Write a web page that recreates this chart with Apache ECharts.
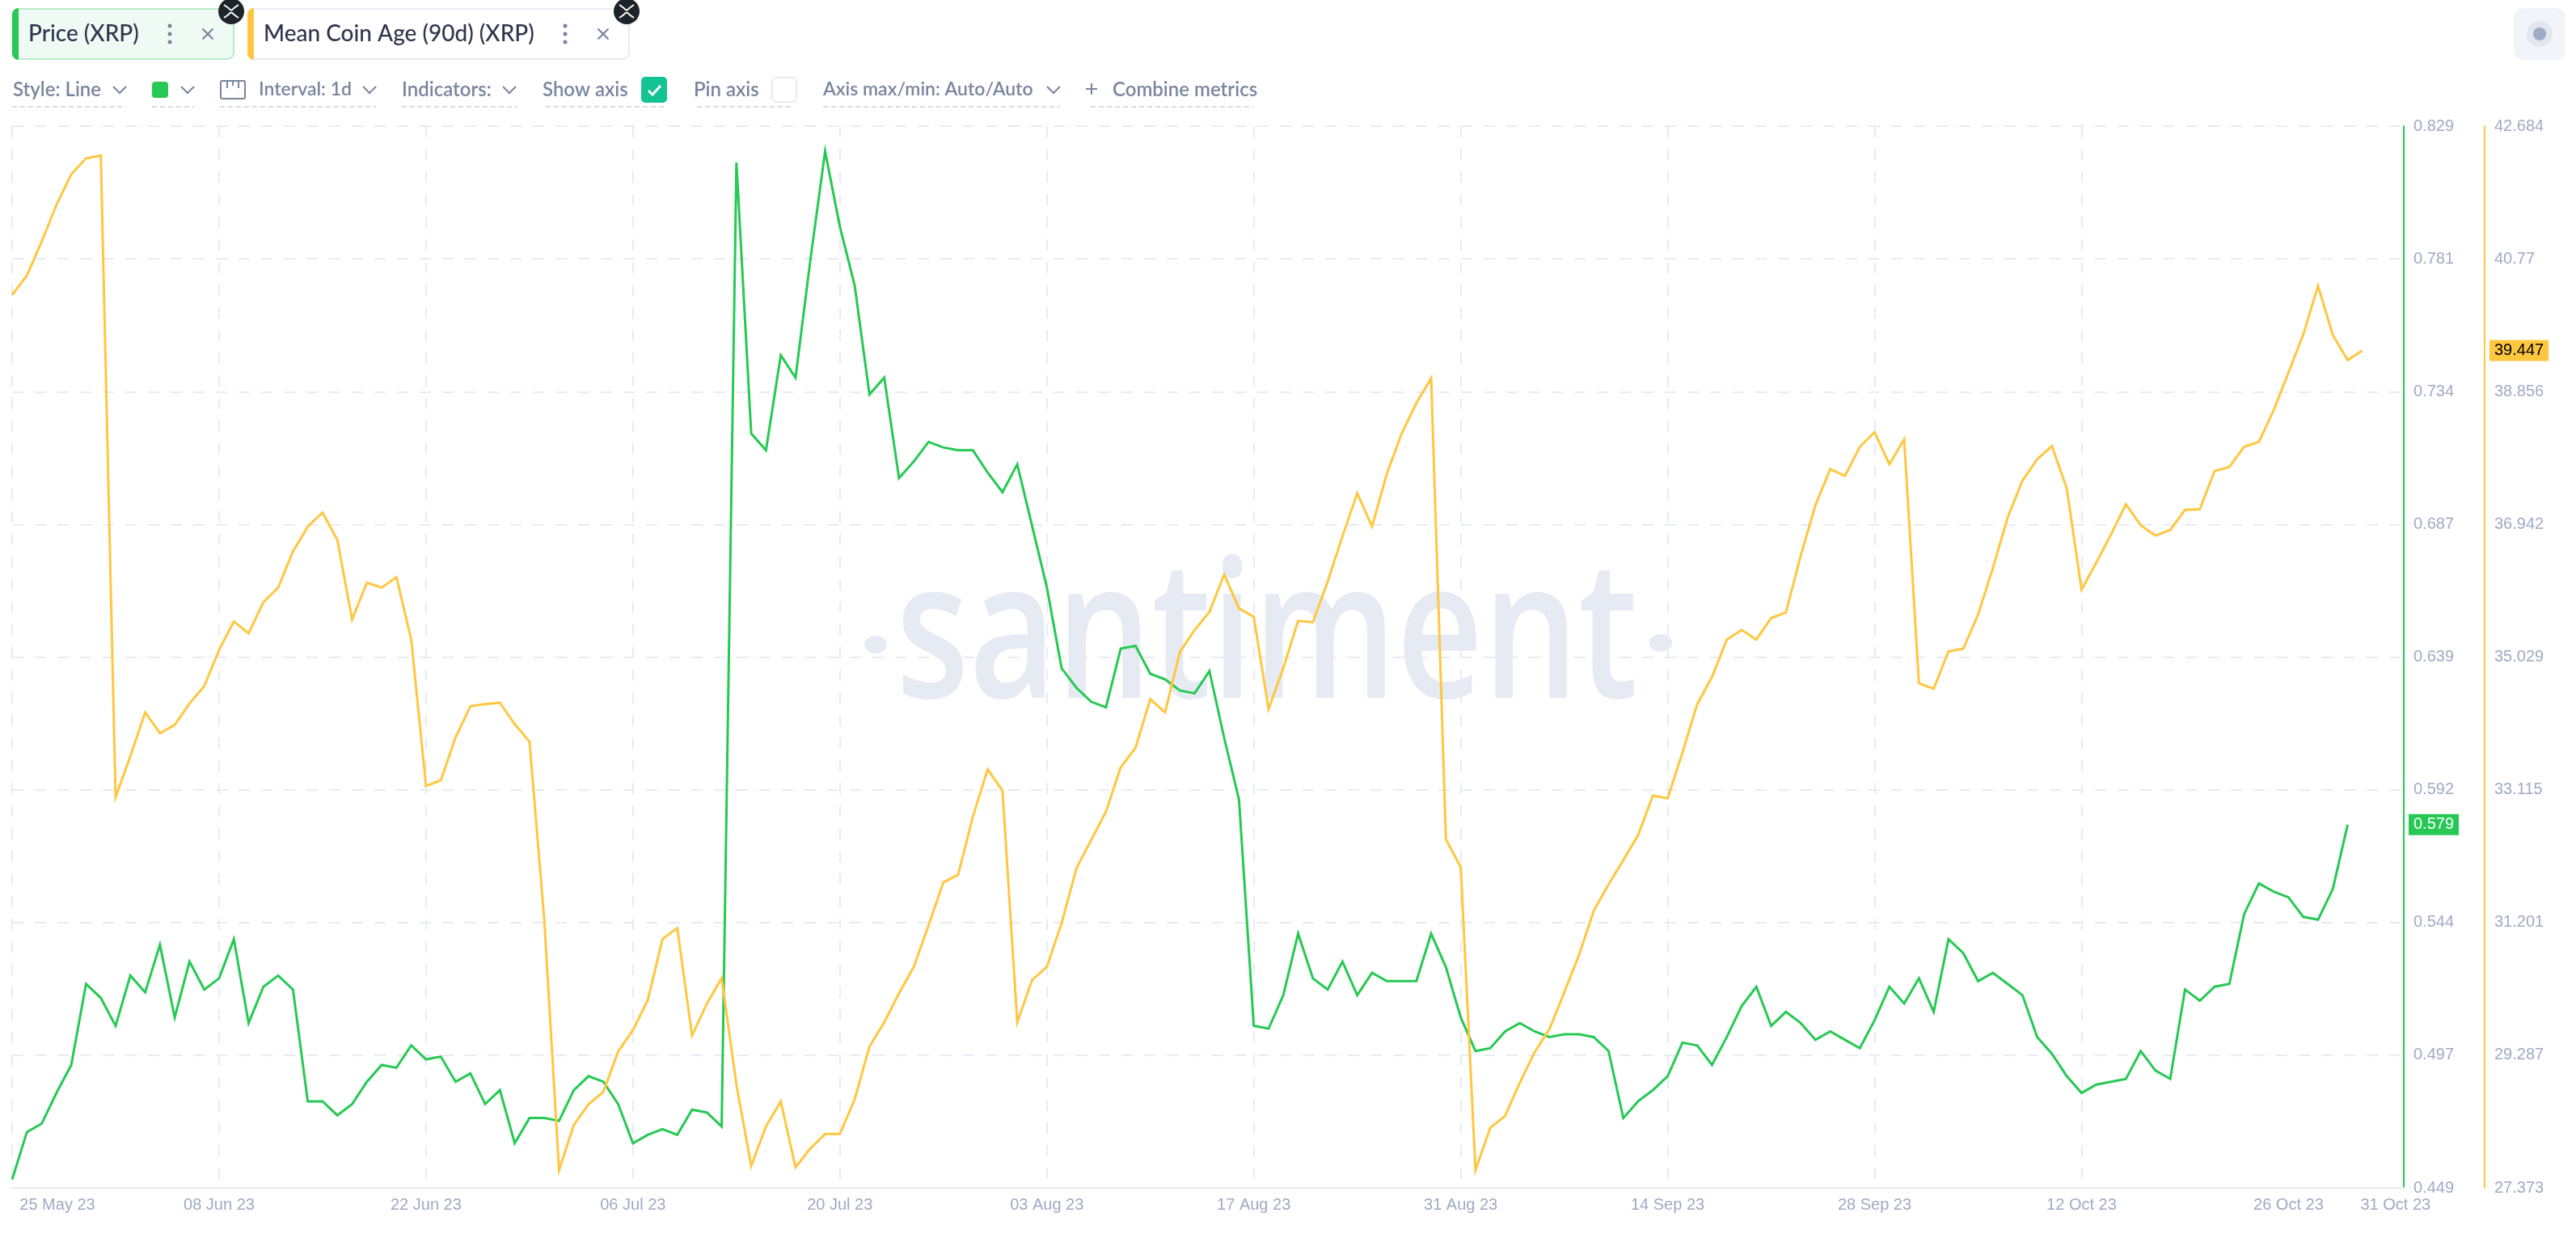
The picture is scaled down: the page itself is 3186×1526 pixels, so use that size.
<!DOCTYPE html>
<html><head><meta charset="utf-8">
<style>html,body{margin:0;padding:0;background:#fff}#c{width:3186px;height:1526px}</style>
<script src="https://cdn.jsdelivr.net/npm/echarts@6/dist/echarts.min.js"></script>
</head><body><div id="c"></div>
<script>
// Price (XRP), one value per day from 25 May 23 to 30 Oct 23
const priceValues = [
0.452,0.469,0.472,0.483,0.493,0.522,0.517,0.507,0.525,0.519,0.536,0.510,0.530,0.520,
0.524,0.538,0.508,0.521,0.525,0.520,0.480,0.480,0.475,0.479,0.487,0.493,0.492,0.500,
0.495,0.496,0.487,0.490,0.479,0.484,0.465,0.474,0.474,0.473,0.484,0.489,0.487,0.479,
0.465,0.468,0.470,0.468,0.477,0.476,0.471,0.816,0.719,0.713,0.747,0.739,0.781,0.820,
0.793,0.772,0.733,0.739,0.703,0.709,0.716,0.714,0.713,0.713,0.705,0.698,0.708,0.686,
0.664,0.635,0.628,0.623,0.621,0.642,0.643,0.633,0.631,0.627,0.626,0.634,0.610,0.588,
0.507,0.506,0.518,0.540,0.524,0.520,0.530,0.518,0.526,0.523,0.523,0.523,0.540,0.528,
0.510,0.498,0.499,0.505,0.508,0.505,0.503,0.504,0.504,0.503,0.498,0.474,0.480,0.484,
0.489,0.501,0.500,0.493,0.503,0.514,0.521,0.507,0.512,0.508,0.502,0.505,0.502,0.499,
0.509,0.521,0.515,0.524,0.512,0.538,0.533,0.523,0.526,0.522,0.518,0.503,0.497,0.489,
0.483,0.486,0.487,0.488,0.498,0.491,0.488,0.520,0.516,0.521,0.522,0.547,0.558,0.555,
0.553,0.546,0.545,0.556,0.579];
// Mean Coin Age (90d) (XRP), one value per day from 25 May 23 to 31 Oct 23
const ageValues = [
40.25,40.53,41.02,41.55,41.99,42.22,42.26,33.01,33.60,34.23,33.93,34.05,34.36,34.61,
35.13,35.54,35.37,35.82,36.03,36.55,36.91,37.11,36.72,35.57,36.10,36.03,36.18,35.28,
33.17,33.25,33.87,34.32,34.35,34.37,34.06,33.81,31.24,27.63,28.28,28.58,28.76,29.34,
29.65,30.08,30.96,31.12,29.57,30.03,30.40,28.86,27.69,28.26,28.62,27.67,27.94,28.15,
28.15,28.65,29.41,29.76,30.18,30.56,31.16,31.78,31.89,32.73,33.41,33.10,29.76,30.37,
30.56,31.19,31.98,32.39,32.80,33.44,33.72,34.42,34.23,35.10,35.42,35.68,36.22,35.73,
35.61,34.28,34.87,35.55,35.53,36.12,36.77,37.39,36.91,37.67,38.25,38.69,39.05,32.40,
32.00,27.63,28.24,28.41,28.89,29.33,29.66,30.19,30.73,31.37,31.75,32.10,32.46,33.03,
32.99,33.65,34.35,34.74,35.28,35.42,35.28,35.59,35.67,36.49,37.22,37.74,37.64,38.06,
38.27,37.81,38.17,34.65,34.57,35.11,35.15,35.64,36.31,37.04,37.57,37.88,38.07,37.46,
36.00,36.39,36.80,37.23,36.93,36.78,36.86,37.15,37.16,37.71,37.77,38.06,38.13,38.59,
39.13,39.68,40.38,39.67,39.31,39.447];
const dateLabels = ['25 May 23','08 Jun 23','22 Jun 23','06 Jul 23','20 Jul 23','03 Aug 23','17 Aug 23','31 Aug 23','14 Sep 23','28 Sep 23','12 Oct 23','26 Oct 23','31 Oct 23'];
const dateDays = [0,14,28,42,56,70,84,98,112,126,140,154,159];
const gridDays = [0,14,28,42,56,70,84,98,112,126,140,154];
const priceTicks = [0.449,0.4965,0.544,0.5915,0.639,0.6865,0.734,0.7815,0.829];
const priceTickLabels = ['0.449','0.497','0.544','0.592','0.639','0.687','0.734','0.781','0.829'];
const ageTicks = [27.373,29.287,31.201,33.115,35.029,36.942,38.856,40.77,42.684];
const ageTickLabels = ['27.373','29.287','31.201','33.115','35.029','36.942','38.856','40.77','42.684'];
const priceLast = 0.579, ageLast = 39.447;

const GREEN='#26c953', ORANGE='#ffc740', AXIS='#9faac4', GRID='#e8ebf4', UI='#7a859e', INK='#2f354d';
const toPairs = a => a.map((v,i)=>[i,v]);
const uiFont = '"Lato", sans-serif';

const g = [];
const rect=(x,y,w,h,r,fill,stroke,lw,z)=>g.push({type:'rect',z:z||5,shape:{x,y,width:w,height:h,r},style:{fill:fill||'transparent',stroke:stroke||null,lineWidth:lw||0},silent:true});
const text=(x,y,t,size,color,weight)=>g.push({type:'text',z:6,style:{x,y,text:t,fontFamily:uiFont,fontSize:size,fontWeight:weight||500,fill:color,textAlign:'left',textVerticalAlign:'middle'},silent:true});
const circle=(x,y,r,fill)=>g.push({type:'circle',z:7,shape:{cx:x,cy:y,r},style:{fill},silent:true});
const poly=(pts,color,lw,smooth)=>g.push({type:'polyline',z:8,shape:{points:pts,smooth:smooth||0},style:{stroke:color,fill:null,lineWidth:lw||2},silent:true});
const chev=(x,y)=>poly([[x-8,y-4],[x,y+4],[x+8,y-4]],UI,2);
const under=(x1,x2)=>g.push({type:'line',z:5,shape:{x1,y1:132,x2,y2:132},style:{stroke:'#d8dbec',lineWidth:2,lineDash:[6,4]},silent:true});
const kebab=x=>{circle(x,32,2.5,UI);circle(x,42,2.5,UI);circle(x,52,2.5,UI);};
const cross=x=>{poly([[x-6.5,35.5],[x+6.5,48.5]],UI,2.2);poly([[x-6.5,48.5],[x+6.5,35.5]],UI,2.2);};
const xrp=x=>{circle(x,14,16,'#1d2429');
  poly([[x-9,6],[x-4,9.5],[x,12.5],[x+4,9.5],[x+9,6]],'#fff',2,0.5);
  poly([[x-9,22],[x-4,18.5],[x,15.5],[x+4,18.5],[x+9,22]],'#fff',2,0.5);};

// watermark
g.push({type:'text',z:-1,x:1108,y:795,scaleX:0.765,scaleY:0.98,style:{x:0,y:0,text:'santiment',fontFamily:'"Open Sans"',fontWeight:600,fontSize:243,fill:'#e6eaf3',textAlign:'left',textVerticalAlign:'middle'},silent:true});
g.push({type:'ellipse',z:-1,shape:{cx:1083,cy:797,rx:14,ry:11},style:{fill:'#e6eaf3'},silent:true});
g.push({type:'ellipse',z:-1,shape:{cx:2054,cy:795,rx:14,ry:11},style:{fill:'#e6eaf3'},silent:true});

// chip 1
rect(16,11,273,62,8,'#f0faf5','#b9ecc6',2);
rect(15,10,8,64,[8,0,0,8],GREEN);
text(35,42,'Price (XRP)',28,INK,500);
kebab(210);cross(257);xrp(286);
// chip 2
rect(307,11,471,62,8,'#ffffff','#e8ebf5',2);
rect(306,10,8,64,[8,0,0,8],ORANGE);
text(326,42,'Mean Coin Age (90d) (XRP)',28,INK,500);
kebab(699);cross(746);xrp(775);

// toolbar
text(16,111,'Style: Line',24,UI,600);chev(148,111);under(15,156);
rect(188,101,20,20,4,GREEN);chev(232,111);under(188,240);
rect(273,100,30,22,2,'#fff',UI,2);poly([[281,100],[281,109]],UI,2);poly([[288,100],[288,106]],UI,2);poly([[295,100],[295,109]],UI,2);
text(320,111,'Interval: 1d',23,UI,600);chev(457,111);under(272,465);
text(497,111,'Indicators:',24,UI,600);chev(630,111);under(497,640);
text(671,111,'Show axis',24,UI,600);
rect(793,95,32,32,5,'#14c393');poly([[802,112],[807,117],[817,106]],'#fff',3);under(675,821);
text(858,111,'Pin axis',24,UI,600);
rect(955,96,30,30,5,'#fff','#e8ebf5',2);under(862,981);
text(1018,111,'Axis max/min: Auto/Auto',23,UI,600);chev(1303,111);under(1018,1311);
poly([[1343,110],[1357,110]],UI,2);poly([[1350,103],[1350,117]],UI,2);
text(1376,111,'Combine metrics',24,UI,600);under(1349,1550);

// top right button
rect(3109,10,64,64,12,'#f2f4f9');
circle(3141,42,16,'#e3e6ee');circle(3141,42,8,AXIS);

const axisRich = {
  n:{color:AXIS,fontSize:20,fontFamily:'"Liberation Sans"',padding:[0,6,0,6]},
};
function yLabel(ticks,labels,last,bg,fg){
  return {
    show:true,inside:false,margin:6,align:'left',
    customValues:ticks.concat([last]),
    formatter:v=>{const i=ticks.indexOf(v);return i>=0?`{n|${labels[i]}}`:`{b|${last}}`;},
    rich:Object.assign({},axisRich,{b:{color:fg,backgroundColor:bg,fontSize:20,fontFamily:'"Liberation Sans"',padding:[3,6,3,6]}})
  };
}

const option={
  animation:false,backgroundColor:'#fff',
  graphic:{elements:g},
  grid:{left:15,top:156,width:2958,height:1313,containLabel:false},
  xAxis:{type:'value',min:0,max:161.8,position:'bottom',
    axisLine:{show:true,onZero:false,lineStyle:{color:GRID,width:2}},
    axisTick:{show:false,customValues:gridDays},
    splitLine:{show:true,showMinLine:true,showMaxLine:false,lineStyle:{color:GRID,width:2,type:[14,14]}},
    axisLabel:{margin:11,customValues:dateDays,color:AXIS,fontSize:20,fontFamily:'"Liberation Sans"',
      formatter:v=>{const i=dateDays.indexOf(v);const t=dateLabels[i];
        if(i===0)return `{first|${t}}`; if(i===dateDays.length-1)return `{last|${t}}`; return t;},
      rich:{first:{color:AXIS,fontSize:20,fontFamily:'"Liberation Sans"',padding:[0,0,0,112]},
            last:{color:AXIS,fontSize:20,fontFamily:'"Liberation Sans"',padding:[0,0,0,82]}}}
  },
  yAxis:[
    {type:'value',min:0.449,max:0.829,position:'right',
     axisLine:{show:true,onZero:false,lineStyle:{color:GREEN,width:2}},
     axisTick:{show:false,customValues:priceTicks},
     splitLine:{show:true,lineStyle:{color:GRID,width:2,type:[14,14]}},
     axisLabel:yLabel(priceTicks,priceTickLabels,priceLast,GREEN,'#fff')},
    {type:'value',min:27.373,max:42.684,position:'right',offset:100,
     axisLine:{show:true,onZero:false,lineStyle:{color:ORANGE,width:2}},
     axisTick:{show:false,customValues:ageTicks},
     splitLine:{show:false},
     axisLabel:yLabel(ageTicks,ageTickLabels,ageLast,ORANGE,'#000')}
  ],
  series:[
    {name:'Price (XRP)',type:'line',yAxisIndex:0,data:toPairs(priceValues),showSymbol:false,symbol:'none',z:3,
     lineStyle:{color:GREEN,width:3,join:'miter'}},
    {name:'Mean Coin Age (90d) (XRP)',type:'line',yAxisIndex:1,data:toPairs(ageValues),showSymbol:false,symbol:'none',z:4,
     lineStyle:{color:ORANGE,width:3,join:'miter'}}
  ]
};
const chart=echarts.init(document.getElementById('c'),null,{renderer:'canvas'});
chart.setOption(option);
</script></body></html>
